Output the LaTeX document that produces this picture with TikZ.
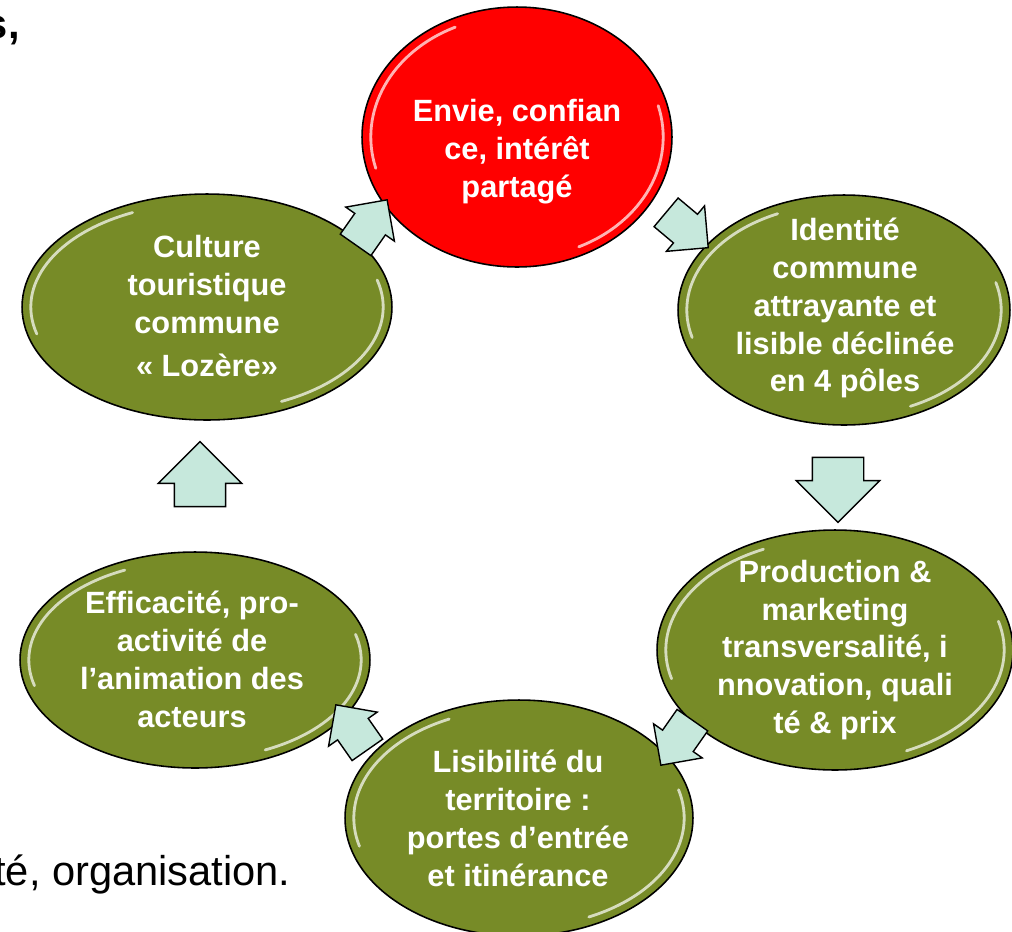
\documentclass[tikz,border=0pt]{standalone}
\usepackage{fontspec}
\setmainfont{Liberation Sans}
\usetikzlibrary{arrows.meta, positioning, shapes.geometric, shapes.arrows, calc}

\definecolor{bubblered}{RGB}{255,0,0}
\definecolor{bubblegreen}{RGB}{119,139,39}
\definecolor{arrowmint}{RGB}{198,232,220}

\begin{document}
\begin{tikzpicture}[x=0.02cm, y=-0.02cm,
    gloss/.style={path picture={
        \draw[white, line width=1.6pt, opacity=0.7, line cap=round]
          let \p1=(path picture bounding box.north east),
              \p2=(path picture bounding box.center),
              \n1={\x1-\x2-5pt}, \n2={\y1-\y2-5pt}
          in ($(\p2)+(115:\n1 and \n2)$)
             arc[start angle=115, end angle=195, x radius=\n1, y radius=\n2]
             ($(\p2)+(-65:\n1 and \n2)$)
             arc[start angle=-65, end angle=15, x radius=\n1, y radius=\n2];
    }},
    bubble/.style={ellipse, draw=black, line width=0.9pt, inner sep=0pt,
        fill=bubblegreen, gloss},
    label/.style={text=white, align=center, inner sep=0pt,
        font=\bfseries\fontsize{17.5}{21.6}\selectfont},
    flow/.style={single arrow, draw=black, line width=0.8pt, fill=arrowmint,
        inner xsep=0pt, inner ysep=0.5cm, minimum height=1.3cm,
        single arrow head extend=0.32cm},
    smallflow/.style={flow, inner ysep=0.36cm, minimum height=1.1cm,
        single arrow head extend=0.22cm},
    body/.style={anchor=base east, inner sep=0pt,
        font=\fontsize{23.7}{28}\selectfont}
]
    \useasboundingbox (0,0) rectangle (1012,931);

    % texte de la page, coupé au bord
    \node[body, font=\bfseries\fontsize{23.7}{28}\selectfont] (txtTop) at (20,38) {s,};
    \node[body] (txtBottom) at (291,885) {té, organisation.};

    % les six bulles du cycle
    \node[bubble, fill=bubblered, minimum width=6.2cm, minimum height=5.2cm]
        (envie) at (517,137) {};
    \node[bubble, minimum width=6.64cm, minimum height=4.6cm] (identite) at (844,310) {};
    \node[bubble, minimum width=7.12cm, minimum height=4.8cm] (production) at (835,650) {};
    \node[bubble, minimum width=6.96cm, minimum height=4.72cm] (lisibilite) at (519,818) {};
    \node[bubble, minimum width=7.0cm, minimum height=4.32cm] (efficacite) at (195,660) {};
    \node[bubble, minimum width=7.4cm, minimum height=4.52cm] (culture) at (207,307) {};

    % textes
    \node[label] (envieT) at (517,152) {Envie, confian\\ce, intérêt\\partagé};
    \node[label] (identiteT) at (845,308)
        {Identité\\commune\\attrayante et\\lisible déclinée\\en 4 pôles};
    \node[label] (productionT) at (835,650)
        {Production \&\\marketing\\transversalité, i\\nnovation, quali\\té \& prix};
    \node[label] (lisibiliteT) at (518,818)
        {Lisibilité du\\territoire :\\portes d’entrée\\et itinérance};
    \node[label] (efficaciteT) at (192,659)
        {Efficacité, pro-\\activité de\\l’animation des\\acteurs};
    \node[label] (cultureT) at (207,306)
        {Culture\\touristique\\commune\\[3pt]« Lozère»};

    % flèches du cycle
    \node[smallflow, rotate=55] (arrCE) at (366,230) {};
    \node[smallflow, rotate=-40] (arrEI) at (680,224) {};
    \node[flow, rotate=-90] (arrIP) at (838,477) {};
    \node[smallflow, rotate=-125] (arrPL) at (682,735) {};
    \node[smallflow, rotate=125] (arrLE) at (357,735) {};
    \node[flow, rotate=90] (arrEC) at (200,487) {};
\end{tikzpicture}
\end{document}
